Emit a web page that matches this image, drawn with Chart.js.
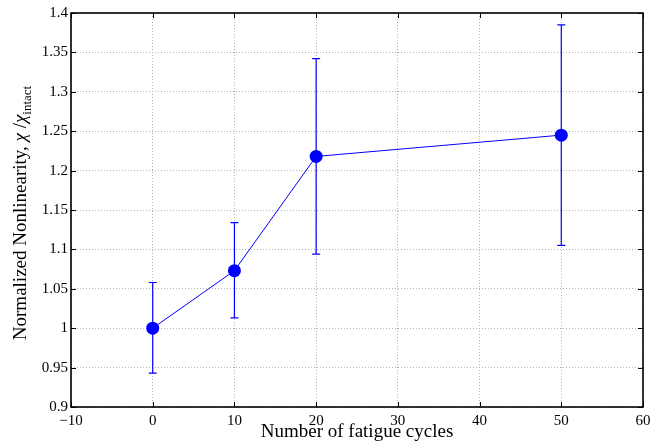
<!DOCTYPE html>
<html lang="en">
<head>
<meta charset="UTF-8">
<title>Normalized Nonlinearity vs Fatigue Cycles</title>
<script src="https://cdn.jsdelivr.net/npm/chart.js"></script>
<style>
  body { margin: 0; background: #fff; }
  #wrap { width: 650px; height: 444px; }
</style>
</head>
<body>
<div id="wrap"><canvas id="nlChart" width="650" height="444"></canvas></div>
<script>
// data
const cycles = [0, 10, 20, 50];
const nonlinearity = [1.0, 1.073, 1.218, 1.245];
const errLower = [0.943, 1.013, 1.094, 1.105];
const errUpper = [1.058, 1.134, 1.342, 1.385];

const xTicks = [-10, 0, 10, 20, 30, 40, 50, 60];
const xTickLabels = ['\u221210', '0', '10', '20', '30', '40', '50', '60'];
const yTicks = [0.9, 0.95, 1, 1.05, 1.1, 1.15, 1.2, 1.25, 1.3, 1.35, 1.4];
const yTickLabels = ['0.9', '0.95', '1', '1.05', '1.1', '1.15', '1.2', '1.25', '1.3', '1.35', '1.4'];

const SERIF = '"Liberation Serif", "Times New Roman", serif';
const BLUE = '#0000ff';

// vertical error bars with small caps
const errorBars = {
    id: 'errorBars',
    beforeDatasetsDraw(chart) {
        const { ctx, scales: { x, y } } = chart;
        ctx.save();
        ctx.strokeStyle = BLUE;
        ctx.lineWidth = 1.2;
        cycles.forEach((c, i) => {
            const px = x.getPixelForValue(c);
            const top = y.getPixelForValue(errUpper[i]);
            const bot = y.getPixelForValue(errLower[i]);
            ctx.beginPath();
            ctx.moveTo(px, top); ctx.lineTo(px, bot);
            ctx.moveTo(px - 4, top); ctx.lineTo(px + 4, top);
            ctx.moveTo(px - 4, bot); ctx.lineTo(px + 4, bot);
            ctx.stroke();
        });
        ctx.restore();
    }
};

// matlab style box with inward ticks on all four sides
const axesBox = {
    id: 'axesBox',
    beforeDatasetsDraw(chart) {
        const { ctx, chartArea: a, scales: { x, y } } = chart;
        ctx.save();
        ctx.strokeStyle = '#000';
        ctx.lineWidth = 1;
        ctx.beginPath();
        xTicks.forEach(v => {
            const px = Math.round(x.getPixelForValue(v)) + 0.5;
            ctx.moveTo(px, a.bottom); ctx.lineTo(px, a.bottom - 5);
            ctx.moveTo(px, a.top); ctx.lineTo(px, a.top + 5);
        });
        yTicks.forEach(v => {
            const py = Math.round(y.getPixelForValue(v)) + 0.5;
            ctx.moveTo(a.left, py); ctx.lineTo(a.left + 5, py);
            ctx.moveTo(a.right, py); ctx.lineTo(a.right - 5, py);
        });
        ctx.stroke();
        ctx.lineWidth = 1.6;
        ctx.strokeRect(a.left, a.top, a.right - a.left, a.bottom - a.top);
        ctx.restore();
    }
};

// y label needs italic chi and a subscript, so draw it by hand
const yLabel = {
    id: 'yLabel',
    afterDraw(chart) {
        const { ctx } = chart;
        const parts = [
            { t: 'Normalized Nonlinearity, ', f: '19px ' + SERIF, dy: 0 },
            { t: '\u03c7', f: 'italic 19px ' + SERIF, dy: 0 },
            { t: ' /', f: '19px ' + SERIF, dy: 0 },
            { t: '\u03c7', f: 'italic 19px ' + SERIF, dy: 0 },
            { t: 'intact', f: '13px ' + SERIF, dy: 5 }
        ];
        ctx.save();
        let total = 0;
        parts.forEach(p => { ctx.font = p.f; p.w = ctx.measureText(p.t).width; total += p.w; });
        ctx.translate(26, 213);
        ctx.rotate(-Math.PI / 2);
        ctx.fillStyle = '#000';
        ctx.textBaseline = 'alphabetic';
        let cx = -total / 2;
        parts.forEach(p => {
            ctx.font = p.f;
            ctx.fillText(p.t, cx, p.dy);
            cx += p.w;
        });
        ctx.restore();
    }
};

const ctx = document.getElementById('nlChart').getContext('2d');

const nlChart = new Chart(ctx, {
    type: 'line',
    data: {
        datasets: [{
            data: cycles.map((c, i) => ({ x: c, y: nonlinearity[i] })),
            borderColor: BLUE,
            borderWidth: 1,
            backgroundColor: BLUE,
            pointRadius: 6.5,
            pointHoverRadius: 6.5,
            pointBackgroundColor: BLUE,
            pointBorderWidth: 0,
            tension: 0,
            fill: false
        }]
    },
    options: {
        responsive: false,
        animation: false,
        events: [],
        layout: { padding: { left: 0, right: 7, top: 13, bottom: 0 } },
        plugins: {
            legend: { display: false },
            tooltip: { enabled: false }
        },
        scales: {
            x: {
                type: 'linear',
                min: -10,
                max: 60,
                afterBuildTicks: s => { s.ticks = xTicks.map(v => ({ value: v })); },
                afterFit: s => {
                    s.height = 37;
                    // let the layout padding decide the plot edges, not the end labels
                    s.paddingLeft = 0;
                    s.paddingRight = 0;
                },
                ticks: {
                    color: '#000',
                    font: { family: SERIF, size: 15 },
                    padding: 5,
                    maxRotation: 0,
                    callback: (v, i) => xTickLabels[i]
                },
                grid: { color: '#b4b4b4', lineWidth: 1, drawTicks: false },
                border: { display: false, dash: [1, 2] },
                title: {
                    display: true,
                    text: 'Number of fatigue cycles',
                    color: '#000',
                    font: { family: SERIF, size: 19 },
                    padding: { top: 0, bottom: 1 }
                }
            },
            y: {
                min: 0.9,
                max: 1.4,
                afterBuildTicks: s => { s.ticks = yTicks.map(v => ({ value: v })); },
                afterFit: s => { s.width = 71; },
                ticks: {
                    color: '#000',
                    font: { family: SERIF, size: 15 },
                    padding: 3,
                    callback: (v, i) => yTickLabels[i]
                },
                grid: { color: '#b4b4b4', lineWidth: 1, drawTicks: false },
                border: { display: false, dash: [1, 2] }
            }
        }
    },
    plugins: [errorBars, axesBox, yLabel]
});
</script>
</body>
</html>
